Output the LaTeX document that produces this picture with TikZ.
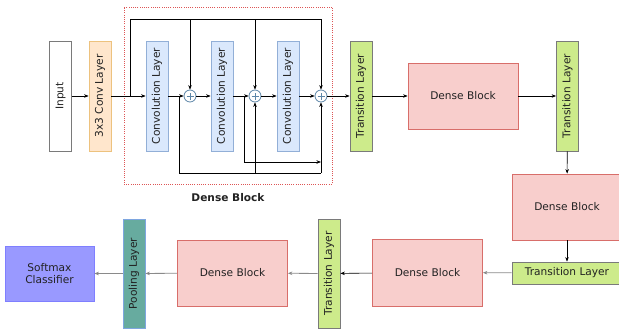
\documentclass[tikz,border=0pt]{standalone}
\usepackage{fontspec}
\setmainfont{DejaVu Sans}
\usetikzlibrary{arrows.meta,calc}
\definecolor{txt}{HTML}{222222}
\definecolor{convfill}{HTML}{DAE8FC}
\definecolor{convdraw}{HTML}{92AFD7}
\definecolor{orfill}{HTML}{FFE6CC}
\definecolor{ordraw}{HTML}{EDC27E}
\definecolor{grfill}{HTML}{CDEB8B}
\definecolor{grdraw}{HTML}{7A7A7A}
\definecolor{dbfill}{HTML}{F8CECC}
\definecolor{dbdraw}{HTML}{D86E6A}
\definecolor{plfill}{HTML}{67AB9F}
\definecolor{pldraw}{HTML}{7EA6E0}
\definecolor{smfill}{HTML}{9999FF}
\definecolor{smdraw}{HTML}{7F7FFF}
\definecolor{circdraw}{HTML}{5C86A8}
\definecolor{lgray}{HTML}{8A8A8A}
\definecolor{framered}{HTML}{DD5555}
\tikzset{
  x=1pt, y=-1pt,
  lbl/.style={font=\fontsize{10.6}{12.5}\selectfont, text=txt, inner sep=0pt, align=center},
  vbox/.style={lbl, draw, line width=0.8pt, minimum width=110pt, minimum height=22pt, rotate=90},
  hbox/.style={lbl, draw, line width=0.8pt},
  convbox/.style={vbox, fill=convfill, draw=convdraw},
  transv/.style={vbox, fill=grfill, draw=grdraw},
  densebox/.style={hbox, fill=dbfill, draw=dbdraw, minimum width=110pt, minimum height=66pt},
  plusnode/.style={circle, draw=circdraw, fill=white, line width=0.8pt, minimum size=12pt, inner sep=0pt,
    path picture={\draw[circdraw, line width=0.8pt] ($(path picture bounding box.center)+(-3.5pt,0)$) -- ++(7pt,0)
      ($(path picture bounding box.center)+(0,-3.5pt)$) -- ++(0,7pt);}},
  arr/.style={draw=black, line width=0.6pt, -{Stealth[length=4.5pt,width=3.5pt]}},
  ln/.style={draw=black, line width=0.6pt},
  garr/.style={draw=lgray, line width=0.8pt, -{Stealth[length=4.5pt,width=3.5pt,fill=black]}},
}
\begin{document}
\begin{tikzpicture}
\useasboundingbox (0,0) rectangle (619,330);
% dense block frame
\node[draw=framered, dash pattern=on 1pt off 1.2pt, line width=1pt, minimum width=208pt, minimum height=177pt, inner sep=0pt] (frame) at (228,95.5) {};
\node[lbl, font=\fontsize{10.6}{12.5}\selectfont\bfseries] (fl) at (228,198) {Dense Block};
% first row
\node[vbox, fill=white, draw=grdraw] (in) at (60.5,96) {Input};
\node[vbox, fill=orfill, draw=ordraw] (c0) at (100,96) {3x3 Conv Layer};
\node[convbox] (cv1) at (157,96) {Convolution Layer};
\node[convbox] (cv2) at (222,96) {Convolution Layer};
\node[convbox] (cv3) at (288,96) {Convolution Layer};
\node[plusnode] (p1) at (190,96) {};
\node[plusnode] (p2) at (255,96) {};
\node[plusnode] (p3) at (321,96) {};
\node[transv] (t1) at (361,96) {Transition Layer};
\node[densebox] (d1) at (463,96) {Dense Block};
\node[transv] (t2) at (567.5,96) {Transition Layer};
% right column
\node[densebox] (d2) at (567,207) {Dense Block};
\node[hbox, fill=grfill, draw=grdraw, minimum width=110pt, minimum height=22pt] (t3) at (567,273) {Transition Layer};
% bottom row
\node[densebox, minimum height=67pt] (d3) at (427.5,272.5) {Dense Block};
\node[transv, minimum width=109pt] (t4) at (329,273.5) {Transition Layer};
\node[densebox] (d4) at (232.5,273) {Dense Block};
\node[vbox, fill=plfill, draw=pldraw, minimum width=109pt] (pl) at (134,273.5) {Pooling Layer};
\node[hbox, fill=smfill, draw=smdraw, minimum width=89pt, minimum height=55pt] (sm) at (49.5,273.5) {Softmax\\Classifier};
% main line
\draw[arr] (in) -- (c0);
\draw[arr] (c0) -- (cv1);
\draw[arr] (cv1) -- (p1);
\draw[arr] (p1) -- (cv2);
\draw[arr] (cv2) -- (p2);
\draw[arr] (p2) -- (cv3);
\draw[arr] (cv3) -- (p3);
\draw[arr] (p3) -- (t1);
\draw[arr] (t1) -- (d1);
\draw[arr] (d1) -- (t2);
% top bypass
\coordinate (s0) at (130,96);
\coordinate (s1) at (130,19);
\draw[ln] (s0) -- (s1) -- (s1 -| p3);
\draw[arr] (s1 -| p3) -- (p3.north);
\draw[arr] (s1 -| p1) -- (p1.north);
\draw[arr] (s1 -| p2) -- (p2.north);
% bottom bypasses
\coordinate (b0) at (179,96);
\coordinate (b1) at (179,173);
\draw[ln] (b0) -- (b1) -- (b1 -| p3);
\draw[arr] (b1 -| p3) -- (p3.south);
\draw[arr] (b1 -| p2) -- (p2.south);
\coordinate (c0a) at (244,96);
\coordinate (c1a) at (244,162);
\coordinate (c2a) at (321,162);
\draw[arr] (c0a) -- (c1a) -- (c2a);
% right column and bottom row
\draw[arr] (t2) -- (d2);
\draw[arr] (d2) -- (t3);
\draw[garr] (t3) -- (d3);
\draw[arr] (d3) -- (t4);
\draw[garr] (t4) -- (d4);
\draw[garr] (d4) -- (pl);
\draw[garr] (pl) -- (sm);
\end{tikzpicture}
\end{document}
